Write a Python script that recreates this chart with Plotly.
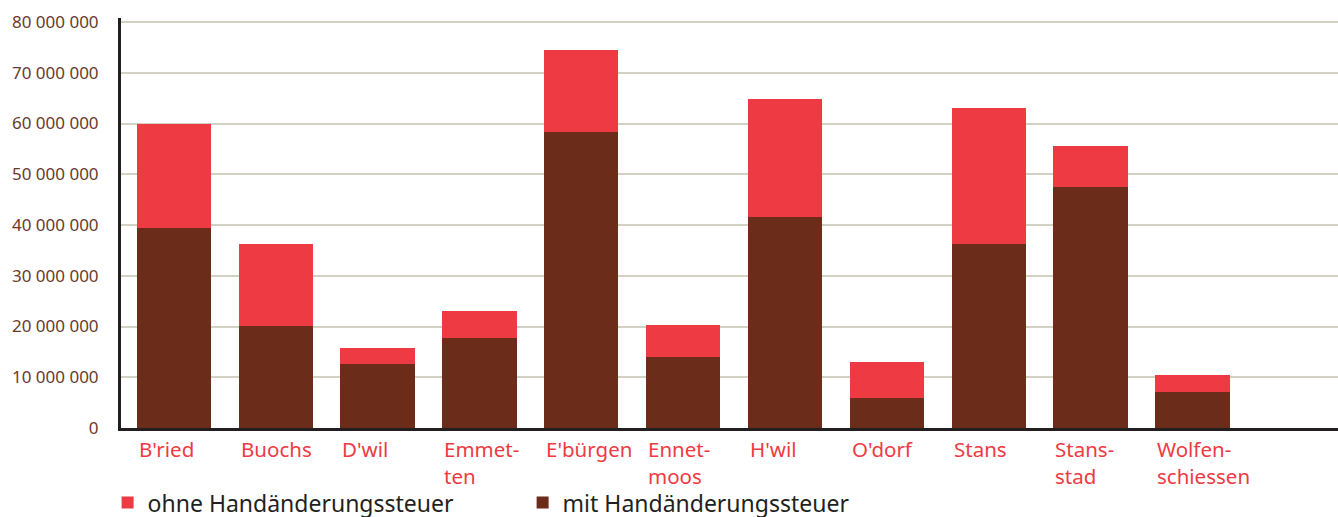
import plotly.graph_objects as go

# Gemeinden (Nidwalden)
gemeinden = ["B'ried", "Buochs", "D'wil", "Emmet-<br>ten", "E'bürgen", "Ennet-<br>moos",
             "H'wil", "O'dorf", "Stans", "Stans-<br>stad", "Wolfen-<br>schiessen"]

# values (CHF)
mit_hst = [39_400_000, 20_100_000, 12_600_000, 17_700_000, 58_300_000, 14_000_000,
           41_600_000, 5_900_000, 36_300_000, 47_500_000, 7_100_000]
total = [60_000_000, 36_300_000, 15_800_000, 23_100_000, 74_500_000, 20_300_000,
         64_800_000, 13_000_000, 63_100_000, 55_600_000, 10_400_000]
ohne_hst = [t - m for t, m in zip(total, mit_hst)]

RED = "#EE3A43"
BROWN = "#6B2C1A"
FONT = "Noto Sans"

x = list(range(len(gemeinden)))

fig = go.Figure()
fig.add_trace(go.Bar(x=x, y=mit_hst, name="mit Handänderungssteuer",
                     marker=dict(color=BROWN, line=dict(width=0))))
fig.add_trace(go.Bar(x=x, y=ohne_hst, name="ohne Handänderungssteuer",
                     marker=dict(color=RED, line=dict(width=0))))

# category labels, left aligned on the bar edge
half = 0.5 * (1 - 0.27)
for i, name in enumerate(gemeinden):
    fig.add_annotation(x=i - half, y=0, xref="x", yref="paper", text=name,
                       showarrow=False, xanchor="left", yanchor="top", align="left",
                       yshift=-5, font=dict(family=FONT, size=20.5, color=RED))

fig.update_layout(
    barmode="stack",
    bargap=0.27,
    width=1338, height=517,
    margin=dict(l=121, r=0, t=18, b=89, autoexpand=False),
    plot_bgcolor="white", paper_bgcolor="white",
    separators=". ",
    font=dict(family=FONT),
    showlegend=True,
    legend=dict(orientation="h", traceorder="reversed", x=-0.011, xanchor="left",
                y=-0.182, yanchor="middle", entrywidth=370, entrywidthmode="pixels",
                font=dict(family=FONT, size=23, color="#231F20"),
                bgcolor="rgba(0,0,0,0)"),
    xaxis=dict(range=[-0.52, 11.43], showticklabels=False, ticks="",
               showgrid=False, zeroline=False,
               showline=True, linecolor="#231F20", linewidth=3),
    yaxis=dict(range=[0, 80_790_000], tickvals=list(range(0, 80_000_001, 10_000_000)),
               tickformat=",d", showgrid=True, gridcolor="#D3D0C4", gridwidth=2,
               zeroline=False, showline=True, linecolor="#231F20", linewidth=3,
               ticks="", ticklabelstandoff=16,
               tickfont=dict(family=FONT, size=17, color="#6B3A2A")),
)

# the page body has a default 8px margin; drop it so the figure sits at 0,0
fig.write_html("out.html", config={"displayModeBar": False},
               post_script="document.body.style.margin='0';")
